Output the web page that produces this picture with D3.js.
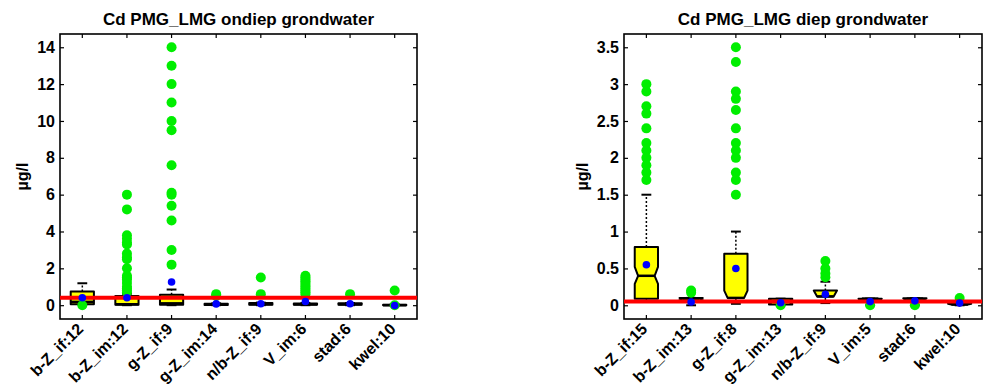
<!DOCTYPE html>
<html>
<head>
<meta charset="utf-8">
<script src="https://cdn.jsdelivr.net/npm/d3@7"></script>
<style>
  body { margin: 0; background: #fff; }
  text { font-family: "Liberation Sans", Arial, sans-serif; font-weight: bold; fill: #000; }
</style>
</head>
<body>
<svg id="chart" width="989" height="392"></svg>
<script>
// ---- Ondiep grondwater (shallow groundwater), Cd in µg/l ----
const ondiepCategories = ["b-Z_if:12", "b-Z_im:12", "g-Z_if:9", "g-Z_im:14", "n/b-Z_if:9", "V_im:6", "stad:6", "kwel:10"];
const ondiepWhiskerLow = [0.05, 0.0, 0.0, 0.0, 0.0, 0.0, 0.0, -0.02];
const ondiepQ1 = [0.05, 0.02, 0.03, 0.01, 0.03, 0.03, 0.03, -0.01];
const ondiepMedian = [0.18, 0.05, 0.1, 0.04, 0.06, 0.05, 0.05, 0.0];
const ondiepQ3 = [0.74, 0.5, 0.56, 0.08, 0.12, 0.09, 0.1, 0.03];
const ondiepWhiskerHigh = [1.19, 0.62, 0.85, 0.1, 0.14, 0.12, 0.12, 0.05];
const ondiepMean = [0.4, 0.4, 1.26, 0.07, 0.08, 0.2, 0.08, -0.02];
const ondiepOutliers = [
  [0.0],
  [6.0, 5.2, 3.8, 3.6, 3.4, 3.3, 2.8, 2.6, 2.5, 2.0, 1.6, 1.5, 1.4, 1.2, 1.0, 0.9, 0.8, 0.7],
  [14, 13, 12, 11, 10, 9.5, 7.6, 6.1, 6.0, 5.4, 4.6, 3.0, 2.2],
  [0.6, 0.5],
  [1.5, 0.6],
  [1.6, 1.5, 1.4, 1.3, 1.2, 1.1, 1.0, 0.9, 0.8, 0.7, 0.6],
  [0.6],
  [0.8, 0.0]
];
const ondiepNorm = 0.4;
const ondiepYTicks = [0, 2, 4, 6, 8, 10, 12, 14];

// ---- Diep grondwater (deep groundwater), Cd in µg/l ----
const diepCategories = ["b-Z_if:15", "b-Z_im:13", "g-Z_if:8", "g-Z_im:13", "n/b-Z_if:9", "V_im:5", "stad:6", "kwel:10"];
const diepWhiskerLow = [0.05, 0.0, 0.02, 0.0, 0.03, 0.0, 0.0, 0.0];
const diepQ1 = [0.09, 0.05, 0.1, 0.01, 0.1, 0.05, 0.05, 0.0];
const diepMedian = [0.4, 0.09, 0.1, 0.05, 0.12, 0.09, 0.09, 0.01];
const diepQ3 = [0.79, 0.1, 0.7, 0.09, 0.2, 0.09, 0.095, 0.02];
const diepNotchLow = [0.29, 0.07, 0.0, 0.02, 0.09, 0.06, 0.06, 0.0];
const diepNotchHigh = [0.52, 0.1, 0.2, 0.08, 0.2, 0.09, 0.095, 0.02];
const diepWhiskerHigh = [1.5, 0.1, 1.0, 0.09, 0.32, 0.09, 0.095, 0.02];
const diepMean = [0.55, 0.045, 0.5, 0.035, 0.15, 0.05, 0.06, 0.03];
const diepOutliers = [
  [3.0, 2.9, 2.7, 2.6, 2.4, 2.2, 2.1, 2.0, 1.9, 1.8, 1.7],
  [0.2, 0.17],
  [3.5, 3.3, 2.9, 2.8, 2.65, 2.4, 2.2, 2.1, 2.0, 1.8, 1.7, 1.5],
  [0.0],
  [0.6, 0.5, 0.43, 0.38],
  [0.0],
  [0.0],
  [0.1]
];
const diepNorm = 0.05;
const diepYTicks = [0, 0.5, 1, 1.5, 2, 2.5, 3, 3.5];

const svg = d3.select("#chart");

function drawPanel(cfg) {
  const top = 34, bottom = 319;
  const x = d3.scaleBand().domain(cfg.categories).range([cfg.left, cfg.right]).padding(0);
  const y = d3.scaleLinear().domain(cfg.domain).range([bottom, top]);
  const g = svg.append("g");

  // title
  g.append("text")
    .attr("x", (cfg.left + cfg.right) / 2).attr("y", 25)
    .attr("text-anchor", "middle").style("font-size", "17px")
    .text(cfg.title);

  // y-axis label
  g.append("text")
    .attr("transform", `translate(${cfg.left - cfg.labelOffset},${(top + bottom) / 2}) rotate(-90)`)
    .attr("text-anchor", "middle").style("font-size", "16px")
    .text("µg/l");

  // axes with inward ticks on all four sides
  const yl = g.append("g").attr("transform", `translate(${cfg.left},0)`)
    .call(d3.axisLeft(y).tickValues(cfg.yTicks).tickSize(-4).tickPadding(5).tickFormat(d => String(d)));
  yl.selectAll("text").style("font-size", "16px").style("font-family", null);
  g.append("g").attr("transform", `translate(${cfg.right},0)`)
    .call(d3.axisRight(y).tickValues(cfg.yTicks).tickSize(-4).tickFormat(""));
  g.append("g").attr("transform", `translate(0,${top})`)
    .call(d3.axisTop(x).tickSize(-4).tickFormat(""));
  const xb = g.append("g").attr("transform", `translate(0,${bottom})`)
    .call(d3.axisBottom(x).tickSize(-4));
  xb.selectAll("text")
    .attr("x", null).attr("y", null).attr("dy", null)
    .attr("text-anchor", "end")
    .attr("transform", "translate(2,11) rotate(-45)")
    .style("font-size", "16px").style("font-family", null);
  g.selectAll(".domain").remove();
  g.selectAll(".tick line").attr("stroke", "#000").attr("stroke-width", 1.2);

  // frame
  g.append("rect")
    .attr("x", cfg.left).attr("y", top)
    .attr("width", cfg.right - cfg.left).attr("height", bottom - top)
    .attr("fill", "none").attr("stroke", "#000").attr("stroke-width", 1.6);

  const bw = x.bandwidth();
  const half = bw * 0.26;
  const notchHalf = half * 0.71;
  const capHalf = bw * 0.11;

  cfg.categories.forEach((c, i) => {
    const cx = x(c) + bw / 2;
    const q1 = cfg.q1[i], q3 = cfg.q3[i], med = cfg.median[i];

    // whiskers (dotted) and caps
    g.append("line").attr("x1", cx).attr("x2", cx)
      .attr("y1", y(q3)).attr("y2", y(cfg.whiskerHigh[i]))
      .attr("stroke", "#000").attr("stroke-width", 1.5).attr("stroke-dasharray", "2,2");
    g.append("line").attr("x1", cx).attr("x2", cx)
      .attr("y1", y(q1)).attr("y2", y(cfg.whiskerLow[i]))
      .attr("stroke", "#000").attr("stroke-width", 1.5).attr("stroke-dasharray", "2,2");
    [cfg.whiskerHigh[i], cfg.whiskerLow[i]].forEach(v => {
      g.append("line").attr("x1", cx - capHalf).attr("x2", cx + capHalf)
        .attr("y1", y(v)).attr("y2", y(v))
        .attr("stroke", "#000").attr("stroke-width", 2);
    });

    // box (notched when notch limits are given)
    const L = cx - half, R = cx + half;
    let pts;
    let mL = L, mR = R;
    if (cfg.notchLow) {
      const nLo = cfg.notchLow[i], nHi = cfg.notchHigh[i];
      mL = cx - notchHalf; mR = cx + notchHalf;
      pts = [];
      if (nLo > q1) pts.push([L, y(q1)], [L, y(nLo)]);
      pts.push([mL, y(med)]);
      if (nHi < q3) pts.push([L, y(nHi)]);
      pts.push([L, y(q3)], [R, y(q3)]);
      if (nHi < q3) pts.push([R, y(nHi)]);
      pts.push([mR, y(med)]);
      if (nLo > q1) pts.push([R, y(nLo)], [R, y(q1)]);
    } else {
      pts = [[L, y(q1)], [L, y(q3)], [R, y(q3)], [R, y(q1)]];
    }
    g.append("path")
      .attr("d", d3.line()(pts) + "Z")
      .attr("fill", "#ffff00").attr("stroke", "#000")
      .attr("stroke-width", 2).attr("stroke-linejoin", "round");

    // median
    g.append("line").attr("x1", mL).attr("x2", mR)
      .attr("y1", y(med)).attr("y2", y(med))
      .attr("stroke", "#000").attr("stroke-width", 2.5);

    // outliers
    g.selectAll(null).data(cfg.outliers[i]).enter().append("circle")
      .attr("cx", cx).attr("cy", d => y(d)).attr("r", 5)
      .attr("fill", "#00ee00");
  });

  // norm line
  g.append("line")
    .attr("x1", cfg.left).attr("x2", cfg.right)
    .attr("y1", y(cfg.norm)).attr("y2", y(cfg.norm))
    .attr("stroke", "#ff0000").attr("stroke-width", 4);

  // means
  g.selectAll(null).data(cfg.mean).enter().append("circle")
    .attr("cx", (d, i) => x(cfg.categories[i]) + bw / 2)
    .attr("cy", d => y(d)).attr("r", 3.8)
    .attr("fill", "#0000ff");
}

drawPanel({
  title: "Cd PMG_LMG ondiep grondwater",
  left: 60, right: 417, labelOffset: 32,
  domain: [-0.75, 14.72],
  yTicks: ondiepYTicks,
  categories: ondiepCategories,
  q1: ondiepQ1, median: ondiepMedian, q3: ondiepQ3,
  whiskerLow: ondiepWhiskerLow, whiskerHigh: ondiepWhiskerHigh,
  mean: ondiepMean, outliers: ondiepOutliers, norm: ondiepNorm
});

drawPanel({
  title: "Cd PMG_LMG diep grondwater",
  left: 624, right: 982, labelOffset: 36,
  domain: [-0.186, 3.68],
  yTicks: diepYTicks,
  categories: diepCategories,
  q1: diepQ1, median: diepMedian, q3: diepQ3,
  notchLow: diepNotchLow, notchHigh: diepNotchHigh,
  whiskerLow: diepWhiskerLow, whiskerHigh: diepWhiskerHigh,
  mean: diepMean, outliers: diepOutliers, norm: diepNorm
});
</script>
</body>
</html>
